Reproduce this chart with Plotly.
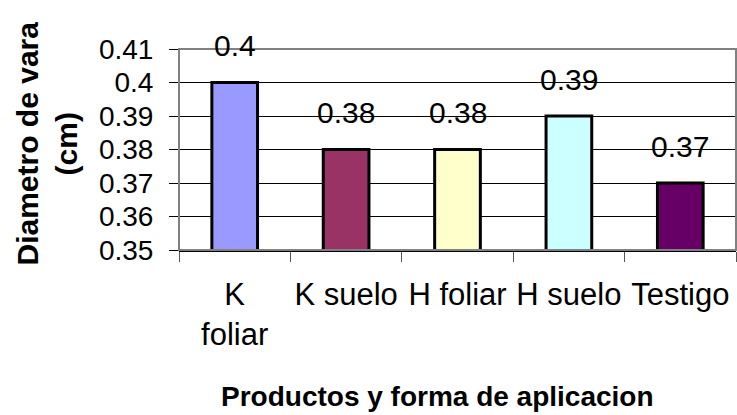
import plotly.graph_objects as go

# Data
categorias = ["K<br>foliar", "K suelo", "H foliar", "H suelo", "Testigo"]
diametro = [0.40, 0.38, 0.38, 0.39, 0.37]
colores = ["#9999FF", "#993366", "#FFFFCC", "#CCFFFF", "#660066"]
marcas_y = [0.35, 0.36, 0.37, 0.38, 0.39, 0.40, 0.41]
etiquetas_y = ["0.35", "0.36", "0.37", "0.38", "0.39", "0.4", "0.41"]

FUENTE = "Liberation Sans, Arial, sans-serif"

fig = go.Figure()
fig.add_trace(go.Bar(
    x=categorias,
    y=diametro,
    marker=dict(color=colores, line=dict(color="black", width=3)),
    width=0.41,
    hoverinfo="skip",
))

# value labels above each bar
for cat, val in zip(categorias, diametro):
    fig.add_annotation(
        x=cat, y=val, xref="x", yref="y",
        text=f"{val:g}", showarrow=False,
        yanchor="middle", yshift=37,
        font=dict(family=FUENTE, size=30, color="black"),
    )

# axis titles
fig.add_annotation(
    x=0, y=0.5, xref="paper", yref="paper",
    xshift=-133, yshift=6, text="<b>Diametro de vara<br>(cm)</b>",
    textangle=-90, showarrow=False,
    xanchor="center", yanchor="middle",
    font=dict(family=FUENTE, size=30, color="black"),
)
fig.add_annotation(
    x=0.5, y=0, xref="paper", yref="paper",
    xshift=-20, yshift=-146, text="<b>Productos y forma de aplicacion</b>",
    showarrow=False, xanchor="center", yanchor="middle",
    font=dict(family=FUENTE, size=28, color="black"),
)

# gray plot-area frame
fig.add_shape(
    type="rect", xref="paper", yref="paper",
    x0=0, x1=1, y0=0, y1=1,
    line=dict(color="#808080", width=2), layer="above",
)

fig.update_xaxes(
    type="category",
    showline=True, linecolor="black", linewidth=1.5,
    ticks="outside", ticklen=10, tickcolor="#555555", tickwidth=1,
    tickson="boundaries",
    tickangle=0, automargin=False,
    ticklabelstandoff=16,
    tickfont=dict(family=FUENTE, size=31, color="black"),
    showgrid=False, zeroline=False,
)
fig.update_yaxes(
    range=[0.35, 0.41],
    tickvals=marcas_y, ticktext=etiquetas_y,
    ticks="outside", ticklen=9, tickcolor="black", tickwidth=1,
    ticklabelstandoff=10, automargin=False,
    tickfont=dict(family=FUENTE, size=28, color="black"),
    showgrid=True, gridcolor="black", gridwidth=1,
    showline=False, zeroline=False,
)

fig.update_layout(
    width=737, height=415,
    margin=dict(l=179, r=1, t=49, b=165),
    paper_bgcolor="white", plot_bgcolor="white",
    showlegend=False,
    font=dict(family=FUENTE, color="black"),
)

fig.write_html("out.html")
